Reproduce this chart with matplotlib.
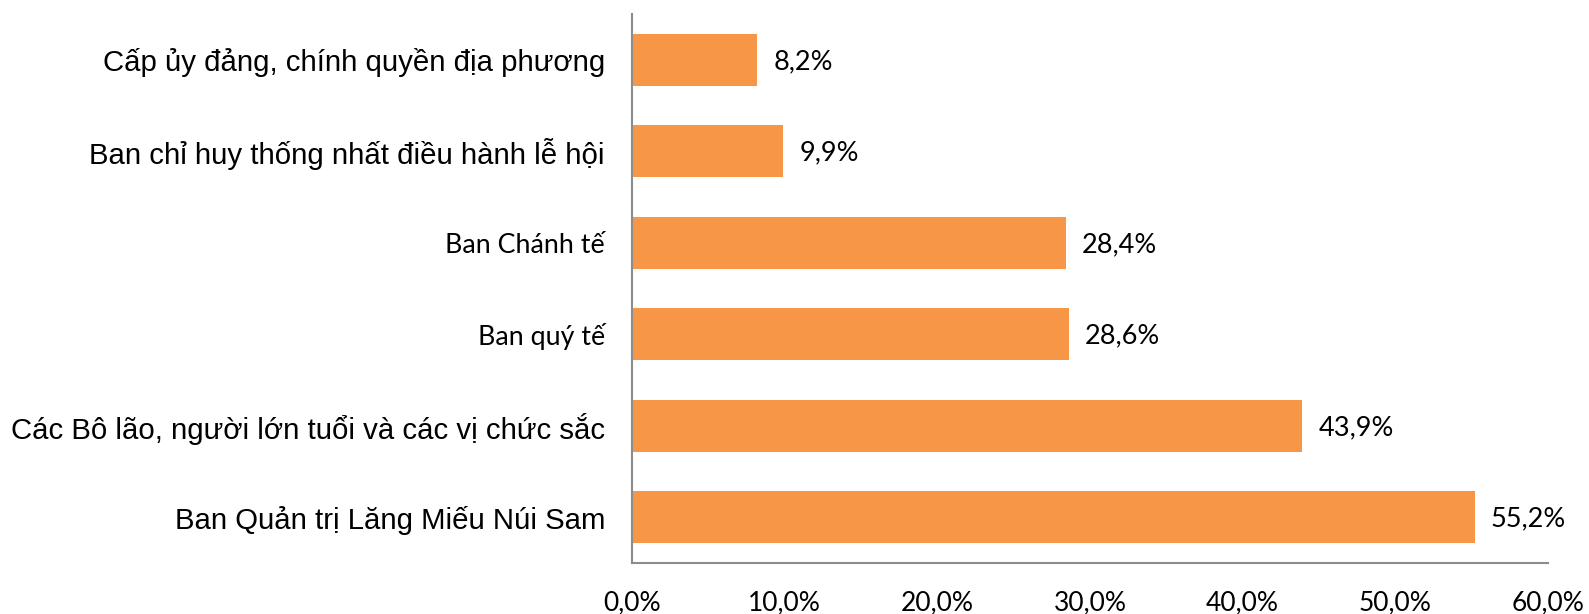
import matplotlib
matplotlib.use("Agg")
import matplotlib.pyplot as plt

categories = [
    "Ban Quản trị Lăng Miếu Núi Sam",
    "Các Bô lão, người lớn tuổi và các vị chức sắc",
    "Ban quý tế",
    "Ban Chánh tế",
    "Ban chỉ huy thống nhất điều hành lễ hội",
    "Cấp ủy đảng, chính quyền địa phương",
]
values = [55.2, 43.9, 28.6, 28.4, 9.9, 8.2]
arial_labels = {0, 1, 4, 5}
xticks = [0, 10, 20, 30, 40, 50, 60]

fig = plt.figure(figsize=(15.89, 6.14), dpi=100)
ax = fig.add_axes([632 / 1589, 51 / 614, 916 / 1589, 549 / 614])

y = list(range(len(categories)))
bars = ax.barh(y, values, height=0.567, color="#F79646")
ax.set_xlim(0, 60)
ax.set_ylim(-0.5, len(categories) - 0.5)

ax.set_xticks(xticks)
ax.set_xticklabels([f"{v:.1f}%".replace(".", ",") for v in xticks],
                   fontsize=19, family="Lato")
ax.tick_params(axis="x", length=0, pad=20)
ax.set_yticks(y)
ax.set_yticklabels(categories)
ax.tick_params(axis="y", length=0, pad=19.5)
for i, lab in enumerate(ax.get_yticklabels()):
    if i in arial_labels:
        lab.set_fontfamily("Liberation Sans")
        lab.set_fontsize(21.2)
    else:
        lab.set_fontfamily("Lato")
        lab.set_fontsize(19.3)

for yi, v in zip(y, values):
    ax.text(v + 1.05, yi - 0.02, f"{v:.1f}%".replace(".", ","), va="center", ha="left",
            fontsize=19.5, family="Lato", color="black")

for s in ["top", "right"]:
    ax.spines[s].set_visible(False)
for s in ["left", "bottom"]:
    ax.spines[s].set_color("#8c8c8c")
    ax.spines[s].set_linewidth(1.5)

fig.savefig("out.png", dpi=100)
